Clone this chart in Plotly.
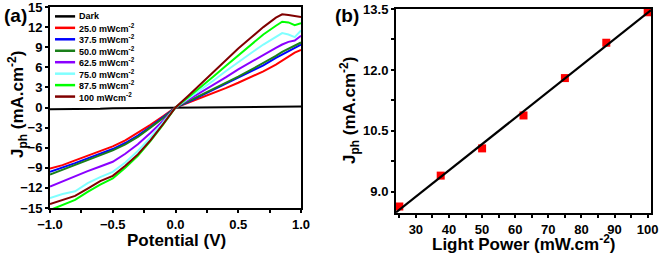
import numpy as np
import plotly.graph_objects as go

# ---------------- Panel (a) data ----------------
potential = [-1.0, -0.9, -0.8, -0.7, -0.6, -0.5, -0.4, -0.3, -0.2, -0.1, 0.0,
             0.1, 0.2, 0.3, 0.4, 0.5, 0.6, 0.7, 0.8, 0.85, 0.9, 0.95, 1.0]

series_names = ["Dark", "25.0 mWcm<sup>-2</sup>", "37.5 mWcm<sup>-2</sup>", "50.0 mWcm<sup>-2</sup>",
                "62.5 mWcm<sup>-2</sup>", "75.0 mWcm<sup>-2</sup>", "87.5 mWcm<sup>-2</sup>",
                "100 mWcm<sup>-2</sup>"]
series_colors = ["#000000", "#ff0000", "#0000ff", "#1a7f1a", "#8a00ff", "#80ffff", "#00ff00", "#800000"]

j_dark = [-0.25, -0.25, -0.25, -0.24, -0.2, -0.12, -0.1, -0.1, -0.08, -0.06, -0.04,
          -0.03, -0.02, -0.01, 0.0, 0.0, 0.02, 0.05, 0.1, 0.12, 0.12, 0.13, 0.14]
j_25 = [-9.1, -8.6, -7.9, -7.2, -6.5, -5.8, -4.9, -3.8, -2.6, -1.3, 0.0,
        0.7, 1.4, 2.1, 2.9, 3.7, 4.5, 5.4, 6.4, 7.0, 7.6, 8.2, 8.6]
j_37 = [-9.6, -9.0, -8.3, -7.6, -6.9, -6.2, -5.3, -4.2, -2.9, -1.5, 0.0,
        0.8, 1.7, 2.6, 3.5, 4.4, 5.3, 6.3, 7.4, 7.9, 8.5, 8.9, 9.4]
j_50 = [-10.0, -9.3, -8.5, -7.8, -7.1, -6.4, -5.5, -4.4, -3.0, -1.6, 0.0,
        0.9, 1.8, 2.7, 3.6, 4.6, 5.6, 6.6, 7.7, 8.3, 8.8, 9.3, 9.7]
j_62 = [-11.8, -11.0, -10.3, -9.5, -8.8, -8.1, -6.9, -5.5, -3.8, -2.0, 0.0,
        1.1, 2.2, 3.4, 4.5, 5.7, 6.8, 7.9, 8.9, 9.4, 9.8, 10.0, 10.7]
j_75 = [-13.5, -12.9, -12.5, -11.3, -10.4, -9.6, -8.2, -6.5, -4.5, -2.3, 0.0,
        1.3, 2.6, 4.0, 5.4, 6.8, 8.1, 9.4, 10.6, 11.1, 10.9, 10.5, 11.5]
j_87 = [-15.3, -14.6, -13.8, -12.6, -11.5, -10.6, -9.0, -7.2, -5.0, -2.6, 0.0,
        1.5, 3.0, 4.6, 6.2, 7.8, 9.4, 10.9, 12.2, 12.8, 12.7, 12.3, 12.6]
j_100 = [-14.4, -13.8, -13.2, -12.1, -11.0, -10.2, -8.7, -7.0, -4.9, -2.5, 0.0,
         1.7, 3.5, 5.3, 7.0, 8.8, 10.4, 12.0, 13.4, 13.9, 13.8, 13.6, 13.5]
all_j = [j_dark, j_25, j_37, j_50, j_62, j_75, j_87, j_100]

# ---------------- Panel (b) data ----------------
light_power = [25, 37.5, 50, 62.5, 75, 87.5, 100]
jph_b = [8.64, 9.40, 10.07, 10.88, 11.80, 12.67, 13.42]

FONT = "Liberation Sans, Arial, sans-serif"

fig = go.Figure()

for name, col, jv in zip(series_names, series_colors, all_j):
    fig.add_trace(go.Scatter(x=potential, y=jv, mode="lines", name=name,
                             line=dict(color=col, width=2), xaxis="x", yaxis="y",
                             showlegend=False))

fig.add_trace(go.Scatter(x=light_power, y=jph_b, mode="markers",
                         marker=dict(symbol="square", color="#ff0000", size=8),
                         xaxis="x2", yaxis="y2", showlegend=False))

slope, intercept = np.polyfit(light_power, jph_b, 1)
xfit = [24, 101]
fig.add_trace(go.Scatter(x=xfit, y=[slope * v + intercept for v in xfit], mode="lines",
                         line=dict(color="black", width=2.2),
                         xaxis="x2", yaxis="y2", showlegend=False))

# manual legend in panel (a)
shapes = []
annotations = []
leg_top, leg_step = 13.6, 1.71
for i, (name, col) in enumerate(zip(series_names, series_colors)):
    yy = leg_top - i * leg_step
    shapes.append(dict(type="line", xref="x", yref="y", x0=-0.96, x1=-0.80, y0=yy, y1=yy,
                       line=dict(color=col, width=2.5)))
    annotations.append(dict(xref="x", yref="y", x=-0.785, y=yy, text=name, showarrow=False,
                            xanchor="left", yanchor="middle",
                            font=dict(family=FONT, size=9, color="black", weight="bold")))

# titles and panel labels
annotations += [
    dict(xref="paper", yref="paper", x=2 / 661, y=1 - 16 / 259, text="(a)", showarrow=False,
         xanchor="left", yanchor="middle", font=dict(family=FONT, size=19, color="black", weight="bold")),
    dict(xref="paper", yref="paper", x=333 / 661, y=1 - 16 / 259, text="(b)", showarrow=False,
         xanchor="left", yanchor="middle", font=dict(family=FONT, size=19, color="black", weight="bold")),
    dict(xref="paper", yref="paper", x=17 / 661, y=1 - 105 / 259,
         text="J<sub>ph</sub> (mA.cm<sup>-2</sup>)", showarrow=False, textangle=-90,
         xanchor="center", yanchor="middle", font=dict(family=FONT, size=17, color="black", weight="bold")),
    dict(xref="paper", yref="paper", x=349 / 661, y=1 - 111 / 259,
         text="J<sub>ph</sub> (mA.cm<sup>-2</sup>)", showarrow=False, textangle=-90,
         xanchor="center", yanchor="middle", font=dict(family=FONT, size=17, color="black", weight="bold")),
    dict(xref="paper", yref="paper", x=176 / 661, y=1 - 240 / 259, text="Potential (V)",
         showarrow=False, xanchor="center", yanchor="middle",
         font=dict(family=FONT, size=17, color="black", weight="bold")),
    dict(xref="paper", yref="paper", x=523 / 661, y=1 - 243 / 259, text="Light Power (mW.cm<sup>-2</sup>)",
         showarrow=False, xanchor="center", yanchor="middle",
         font=dict(family=FONT, size=17, color="black", weight="bold")),
]

tickfont = dict(family=FONT, size=13, color="black", weight="bold")
axcommon = dict(showline=True, linecolor="black", linewidth=2, mirror=True, showgrid=False,
                zeroline=False, ticks="outside", ticklen=3, tickwidth=1.5, tickcolor="black",
                tickfont=tickfont, fixedrange=True, automargin=False, ticklabeloverflow="allow")

fig.update_layout(
    width=661, height=259,
    margin=dict(l=0, r=0, t=0, b=0, autoexpand=False),
    paper_bgcolor="white", plot_bgcolor="white",
    xaxis=dict(domain=[50 / 661, 301 / 661], range=[-1.0, 1.0], tickvals=[-1.0, -0.5, 0.0, 0.5, 1.0],
               tickformat=".1f", anchor="y",
               minor=dict(tickvals=[-0.75, -0.25, 0.25, 0.75], ticks="outside", ticklen=3, tickcolor="black"),
               **axcommon),
    yaxis=dict(domain=[1 - 208 / 259, 1 - 7 / 259], range=[-15, 15], dtick=3, tick0=0, anchor="x",
               **axcommon),
    xaxis2=dict(domain=[396 / 661, 651 / 661], range=[24, 101], dtick=10, tick0=0, anchor="y2",
                minor=dict(dtick=5, ticks="outside", ticklen=3, tickcolor="black"),
                **axcommon),
    yaxis2=dict(domain=[1 - 213 / 259, 1 - 9 / 259], range=[8.48, 13.5], tickvals=[9.0, 10.5, 12.0, 13.5],
                tickformat=".1f", anchor="x2",
                minor=dict(tickvals=[9.75, 11.25, 12.75], ticks="outside", ticklen=3, tickcolor="black"),
                **axcommon),
    shapes=shapes,
    annotations=annotations,
    showlegend=False,
)

fig.write_html("out.html", config={"displayModeBar": False},
               post_script="document.body.style.margin='0';document.body.style.overflow='hidden';")
